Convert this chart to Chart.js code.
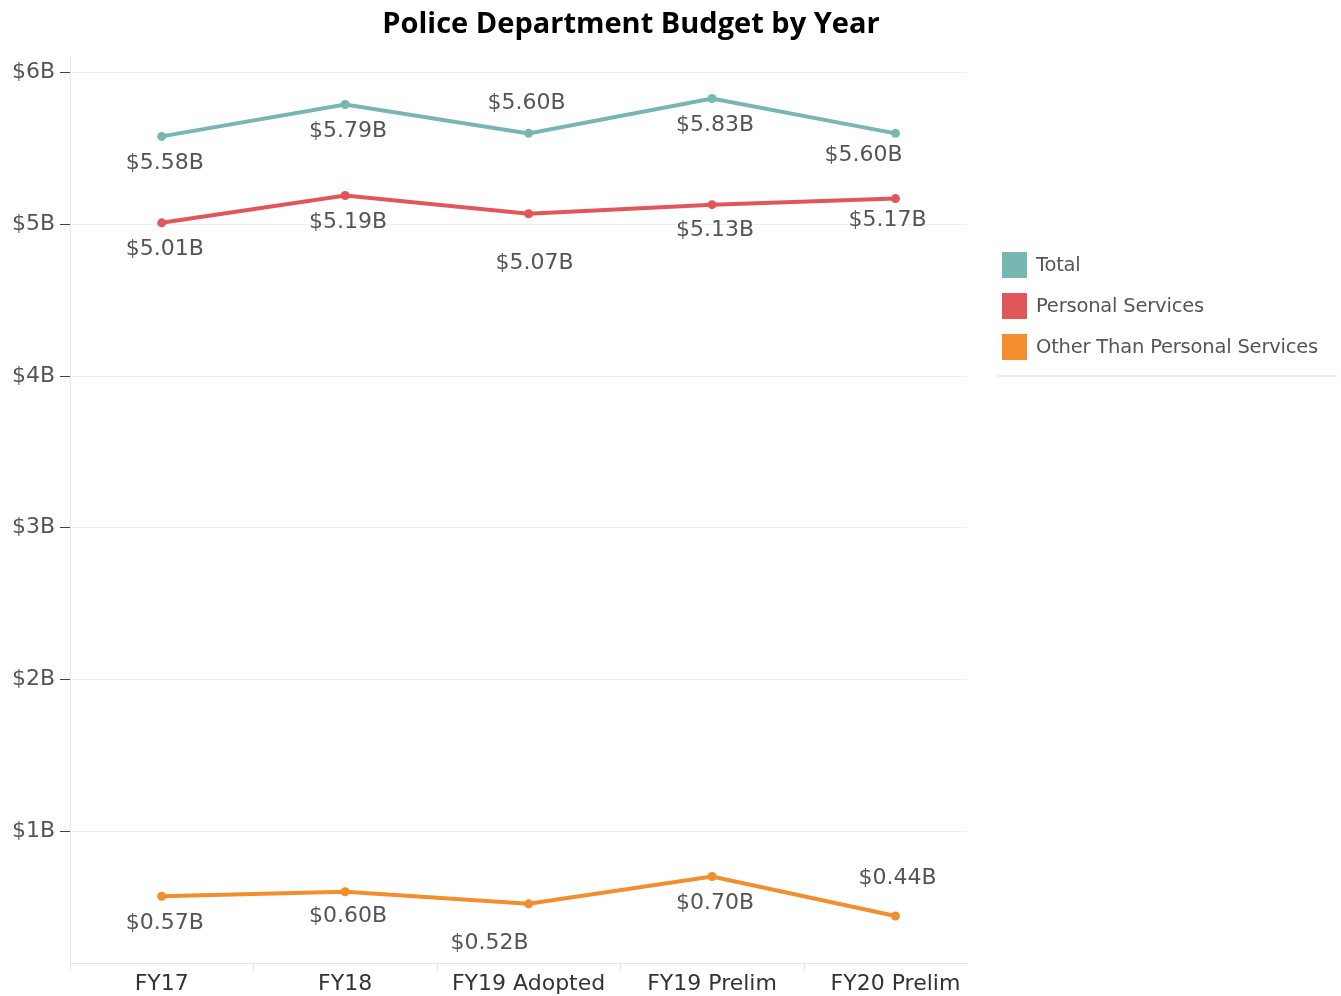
<!DOCTYPE html>
<html>
<head>
<meta charset="utf-8">
<script src="https://cdn.jsdelivr.net/npm/chart.js@4"></script>
<style>
  html, body { margin: 0; padding: 0; background: #fff; }
  #wrap { position: relative; width: 1341px; height: 996px; }
  #title {
    position: absolute; left: 0; width: 1262px; top: 2px;
    text-align: center; font: bold 29px "Open Sans", sans-serif; color: #000;
  }
  #legend {
    position: absolute; left: 997px; top: 244px; width: 340px;
    border-bottom: 2px solid #eeeeee; padding-bottom: 8px;
  }
  .lg-row { display: flex; align-items: center; height: 41px; padding-left: 5px; }
  .lg-box { width: 25px; height: 26px; margin-right: 9px; }
  .lg-text { font: 19.5px "DejaVu Sans", sans-serif; color: #555; letter-spacing: -0.2px; }
</style>
</head>
<body>
<div id="wrap">
  <canvas id="chart" width="1341" height="996"></canvas>
  <div id="title">Police Department Budget by Year</div>
  <div id="legend"></div>
</div>
<script>
// --- données (milliards de $) ---
const categories = ["FY17", "FY18", "FY19 Adopted", "FY19 Prelim", "FY20 Prelim"];
const totalBudget = [5.58, 5.79, 5.60, 5.83, 5.60];
const personalServices = [5.01, 5.19, 5.07, 5.13, 5.17];
const otherServices = [0.57, 0.60, 0.52, 0.70, 0.44];
const yTicks = [1, 2, 3, 4, 5, 6];
const seriesNames = ["Total", "Personal Services", "Other Than Personal Services"];

const colors = ["#76b7b2", "#e15759", "#f28e2b"];

// décalage des étiquettes (dx, dy en px) par rapport au point, comme dans Tableau
const labelOffsets = [
  [[3, 27], [3, 27], [-2, -30], [3, 27], [-32, 22]],
  [[3, 26], [3, 27], [6, 50], [3, 26], [-8, 22]],
  [[3, 27], [3, 25], [-39, 39], [3, 27], [2, -38]]
];

const fmt = v => "$" + v.toFixed(2) + "B";

// --- légende HTML ---
const legendEl = document.getElementById("legend");
seriesNames.forEach((name, i) => {
  const row = document.createElement("div");
  row.className = "lg-row";
  row.innerHTML = `<div class="lg-box" style="background:${colors[i]}"></div><div class="lg-text">${name}</div>`;
  legendEl.appendChild(row);
});

// --- plugin : étiquettes de valeurs + petits séparateurs de l'axe X ---
const valueLabels = {
  id: "valueLabels",
  afterDatasetsDraw(chart) {
    const ctx = chart.ctx;
    ctx.save();
    ctx.font = '22px "DejaVu Sans", sans-serif';
    ctx.fillStyle = "#555";
    ctx.textAlign = "center";
    ctx.textBaseline = "middle";
    chart.data.datasets.forEach((ds, i) => {
      const meta = chart.getDatasetMeta(i);
      meta.data.forEach((pt, j) => {
        const off = labelOffsets[i][j];
        ctx.fillText(fmt(ds.data[j].y), pt.x + off[0], pt.y + off[1]);
      });
    });
    ctx.restore();
  },
  afterDraw(chart) {
    const ctx = chart.ctx;
    const x = chart.scales.x;
    const area = chart.chartArea;
    ctx.save();
    ctx.strokeStyle = "#e4e4e4";
    ctx.lineWidth = 1;
    ctx.beginPath();
    for (let k = 0; k <= categories.length - 1; k++) {
      const px = Math.round(x.getPixelForValue(k - 0.5)) + 0.5;
      ctx.moveTo(px, area.bottom);
      ctx.lineTo(px, area.bottom + 8);
    }
    ctx.stroke();
    ctx.restore();
  }
};

const series = [totalBudget, personalServices, otherServices];

new Chart(document.getElementById("chart"), {
  type: "line",
  data: {
    datasets: series.map((vals, i) => ({
      label: seriesNames[i],
      data: vals.map((v, j) => ({ x: j, y: v })),
      borderColor: colors[i],
      backgroundColor: colors[i],
      borderWidth: 4,
      pointRadius: 4.5,
      pointBorderWidth: 0,
      tension: 0
    }))
  },
  plugins: [valueLabels],
  options: {
    responsive: false,
    animation: false,
    layout: { padding: { top: 56, right: 374, left: 0, bottom: 0 } },
    plugins: {
      legend: { display: false },
      title: { display: false },
      tooltip: { enabled: false }
    },
    scales: {
      x: {
        type: "linear",
        min: -0.5,
        max: 4.39,
        afterBuildTicks: axis => { axis.ticks = categories.map((_, i) => ({ value: i })); },
        afterFit: axis => { axis.height = 33; },
        ticks: {
          autoSkip: false,
          maxRotation: 0,
          padding: 8,
          color: "#333",
          font: { family: "DejaVu Sans", size: 22 },
          callback: v => categories[v]
        },
        grid: { drawOnChartArea: false, drawTicks: false },
        border: { color: "#e6e6e6" }
      },
      y: {
        min: 0.13,
        max: 6.11,
        afterBuildTicks: axis => { axis.ticks = yTicks.map(v => ({ value: v })); },
        afterFit: axis => { axis.width = 70; },
        ticks: {
          padding: 5,
          color: "#555",
          font: { family: "DejaVu Sans", size: 22 },
          callback: v => "$" + v + "B"
        },
        grid: { color: "#eeeeee", tickColor: "#444", tickLength: 10 },
        border: { color: "#e6e6e6" }
      }
    }
  }
});
</script>
</body>
</html>
